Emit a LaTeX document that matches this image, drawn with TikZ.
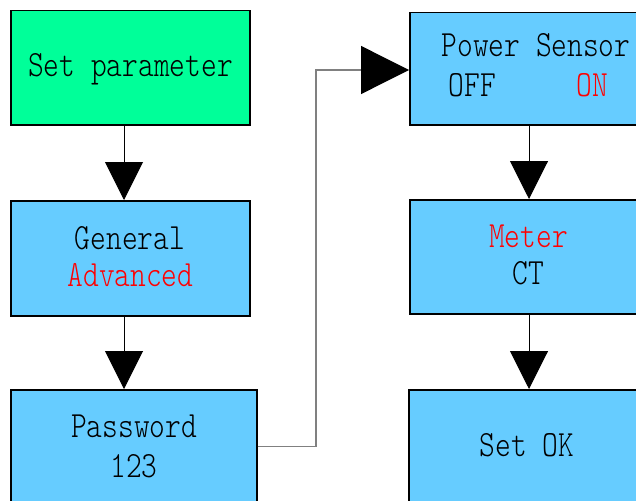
\documentclass[tikz,border=0pt]{standalone}
\usepackage{fontspec}
\newfontfamily\diafont{lmmonolt10-regular}[Extension=.otf, FakeStretch=0.81]
\usetikzlibrary{arrows.meta}
\definecolor{boxgreen}{HTML}{00FF99}
\definecolor{boxblue}{HTML}{66CCFF}
\definecolor{txtred}{HTML}{FF0000}
\begin{document}
\begin{tikzpicture}[x=1pt,y=-1pt,
  box/.style={draw=black, line width=1.5pt, rectangle, inner sep=0pt, anchor=north west},
  txt/.style={font=\diafont\fontsize{37}{37}\selectfont, anchor=base, inner sep=0pt},
  arr/.style={draw=black, line width=1pt, -{Triangle[width=38pt,length=38pt]}},
  link/.style={draw=gray, line width=1.3pt, -{Triangle[width=48pt,length=48pt,color=black,fill=black]}}]
\clip (0,0) rectangle (636,500);
\useasboundingbox (0,0) rectangle (636,500);
% boxes
\node[box, fill=boxgreen, minimum width=239pt, minimum height=114pt] (sp) at (10,10) {};
\node[box, fill=boxblue, minimum width=239pt, minimum height=115pt] (gen) at (10,200) {};
\node[box, fill=boxblue, minimum width=246pt, minimum height=114pt] (pw) at (10,389) {};
\node[box, fill=boxblue, minimum width=240pt, minimum height=112pt] (ps) at (409,12) {};
\node[box, fill=boxblue, minimum width=240pt, minimum height=114pt] (mt) at (409,199) {};
\node[box, fill=boxblue, minimum width=240pt, minimum height=130pt] (ok) at (408,389) {};
% texts
\node[txt] (t1) at (130.5,77) {Set parameter};
\node[txt] (t2) at (130,249) {General};
\node[txt, text=txtred] (t3) at (130.5,286) {Advanced};
\node[txt] (t4) at (134,437) {Password};
\node[txt] (t5) at (134,477) {123};
\node[txt] (t6) at (536,57) {Power Sensor};
\node[txt] (t7) at (472.5,97) {OFF};
\node[txt, text=txtred] (t8) at (592.5,97) {ON};
\node[txt, text=txtred] (t9) at (528.5,247) {Meter};
\node[txt] (t10) at (528.5,284) {CT};
\node[txt] (t11) at (527,456) {Set OK};
% connectors
\coordinate (cl) at (124,0);
\coordinate (cr) at (529,0);
\coordinate (bend) at (316,70);
\draw[arr] (sp.south -| cl) -- (gen.north -| cl);
\draw[arr] (gen.south -| cl) -- (pw.north -| cl);
\draw[arr] (ps.south -| cr) -- (mt.north -| cr);
\draw[arr] (mt.south -| cr) -- (ok.north -| cr);
\draw[link] (pw.east) -| (bend) -- (bend -| ps.west);
\end{tikzpicture}
\end{document}
